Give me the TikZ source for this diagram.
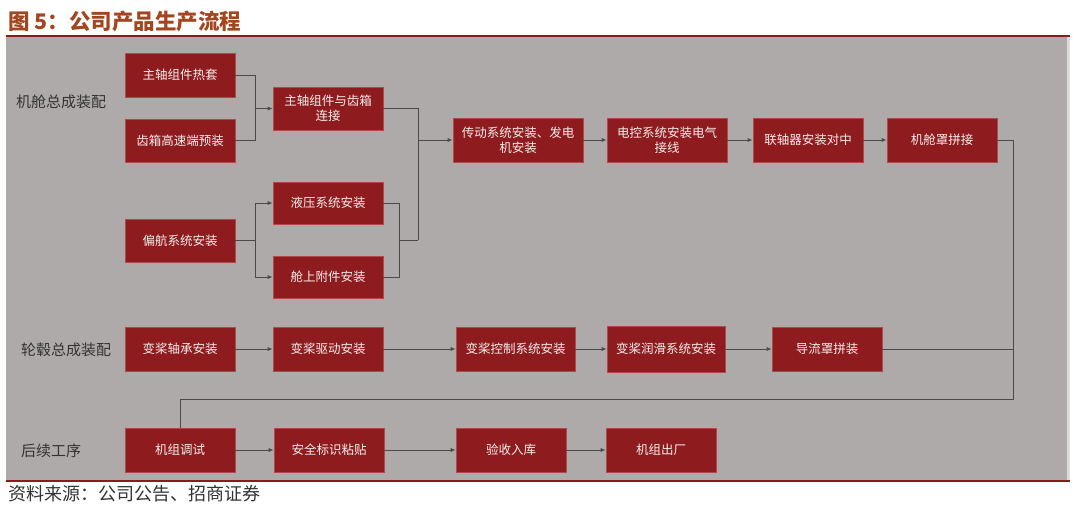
\documentclass[tikz,border=0pt]{standalone}
\usepackage{fontspec}
\newfontfamily\cjk{Noto Sans CJK SC}
\usetikzlibrary{arrows.meta}
\definecolor{bg}{HTML}{AEAAA9}
\definecolor{strip}{HTML}{DDDCDC}
\definecolor{boxred}{HTML}{8E1C1E}
\definecolor{boxedge}{HTML}{B04A4A}
\definecolor{boxtext}{HTML}{F7ECEC}
\definecolor{labtext}{HTML}{333333}
\definecolor{linegray}{HTML}{4A4A4A}
\definecolor{rule}{HTML}{8B1A1A}
\definecolor{titlecol}{HTML}{A3461F}
\begin{document}
\begin{tikzpicture}[x=1pt,y=-1pt,
  box/.style={draw=boxedge, line width=0.6pt, fill=boxred, text=boxtext,
    font=\cjk\fontsize{12.5}{15}\selectfont, align=center, inner sep=0pt,
    minimum height=43pt, minimum width=110pt},
  lab/.style={anchor=west, text=labtext, font=\cjk\fontsize{15}{18}\selectfont, inner sep=0pt},
  conn/.style={draw=linegray, line width=0.8pt},
  arr/.style={conn, -{Latex[length=5pt,width=4pt]}}]
\useasboundingbox (0,0) rectangle (1080,512);
\fill[white] (0,0) rectangle (1080,512);
% background panel and rules
\fill[bg] (6,37) rectangle (1067,480);
\fill[strip] (1067,37) rectangle (1070,480);
\draw[rule, line width=2pt] (6,36) -- (1070,36);
\draw[rule, line width=2pt] (6,481) -- (1070,481);
% title and source
\node[anchor=west, inner sep=0pt, text=titlecol, font=\cjk\bfseries\fontsize{21.5}{25}\selectfont] (title) at (8,21) {图 5：公司产品生产流程};
\node[anchor=west, inner sep=0pt, text=labtext, font=\cjk\fontsize{18}{21}\selectfont] (src) at (8,494) {资料来源：公司公告、招商证券};
% row labels
\node[lab] (l1) at (16,102) {机舱总成装配};
\node[lab] (l2) at (21,350) {轮毂总成装配};
\node[lab] (l3) at (21,451) {后续工序};
% nacelle
\node[box, minimum height=44pt] (a1) at (180,75) {主轴组件热套};
\node[box] (a2) at (180,140.5) {齿箱高速端预装};
\node[box] (b1) at (328,108.5) {主轴组件与齿箱\\连接};
\node[box] (a3) at (180,240.5) {偏航系统安装};
\node[box, minimum height=42pt] (c1) at (328,203) {液压系统安装};
\node[box, minimum height=42pt] (c2) at (328,277) {舱上附件安装};
\node[box, minimum width=130pt, minimum height=44pt] (d1) at (518,140) {传动系统安装、发电\\机安装};
\node[box, minimum width=120pt, minimum height=44pt] (d2) at (667,140) {电控系统安装电气\\接线};
\node[box, minimum height=44pt] (d3) at (808,140) {联轴器安装对中};
\node[box, minimum height=44pt] (d4) at (942,140) {机舱罩拼接};
% hub
\node[box, minimum height=44pt] (r1) at (180,349) {变桨轴承安装};
\node[box, minimum height=44pt] (r2) at (328,349) {变桨驱动安装};
\node[box, minimum width=119pt, minimum height=44pt] (r3) at (515.5,349) {变桨控制系统安装};
\node[box, minimum width=118pt, minimum height=46pt] (r4) at (666,349) {变桨润滑系统安装};
\node[box, minimum height=44pt] (r5) at (827,349) {导流罩拼装};
% final
\node[box, minimum height=44pt] (s1) at (180,450) {机组调试};
\node[box, minimum height=44pt] (s2) at (329,450) {安全标识粘贴};
\node[box, minimum height=44pt] (s3) at (511,450) {验收入库};
\node[box, minimum height=44pt] (s4) at (661,450) {机组出厂};
% junctions
\coordinate (j1) at (255,108.5);
\coordinate (j2) at (255,240.5);
\coordinate (j3) at (399,240);
\coordinate (j4) at (418,240);
\coordinate (j5) at (418,140);
\coordinate (k1) at (1013,140);
\coordinate (k2) at (1013,399);
\coordinate (k3) at (180,399);
% connectors nacelle
\draw[conn] (a1.east) -| (j1);
\draw[conn] (a2.east) -| (j1);
\draw[arr] (j1) -- (b1.west);
\draw[conn] (a3.east) -- (j2);
\draw[arr] (j2) |- (c1.west);
\draw[arr] (j2) |- (c2.west);
\draw[conn] (c1.east) -| (j3);
\draw[conn] (c2.east) -| (j3);
\draw[conn] (j3) -- (j4);
\draw[conn] (b1.east) -| (j4);
\draw[arr] (j5) -- (d1.west);
\draw[arr] (d1) -- (d2);
\draw[arr] (d2) -- (d3);
\draw[arr] (d3) -- (d4);
\draw[conn] (d4.east) -- (k1) -- (k2) -- (k3) -- (s1.north);
% hub
\draw[arr] (r1) -- (r2);
\draw[arr] (r2) -- (r3);
\draw[arr] (r3) -- (r4);
\draw[arr] (r4) -- (r5);
\draw[conn] (r5.east) -- (r5.east -| k1);
% final
\draw[arr] (s1) -- (s2);
\draw[arr] (s2) -- (s3);
\draw[arr] (s3) -- (s4);
\end{tikzpicture}
\end{document}
